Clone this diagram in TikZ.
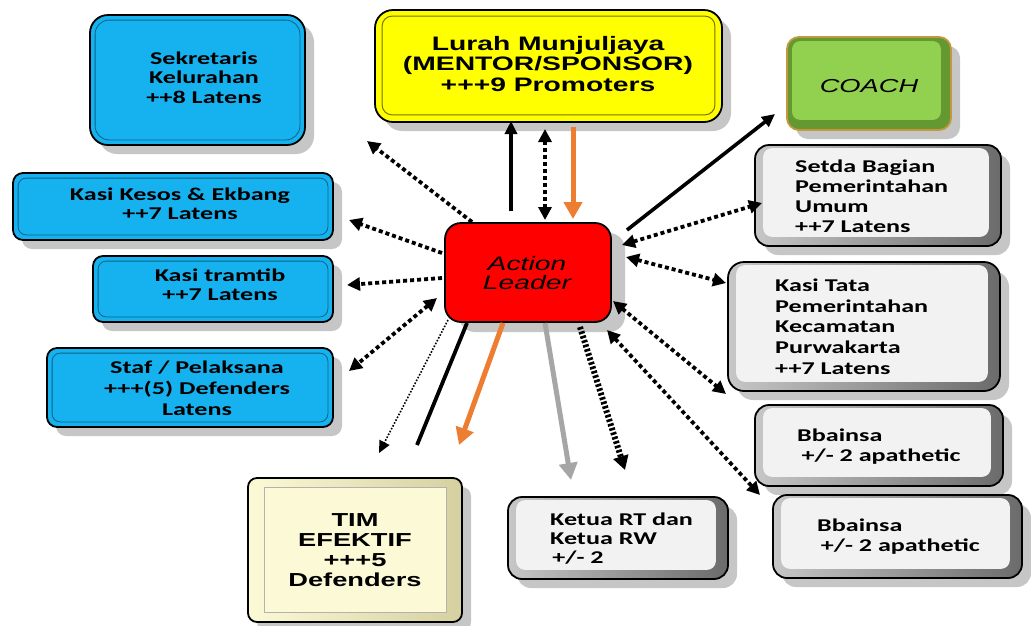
\documentclass[tikz,border=0pt]{standalone}
\usepackage{fontspec}
\usepackage{graphicx}
\usetikzlibrary{arrows.meta,shadows,calc}
\newfontfamily\calfont{Carlito}
\newfontfamily\arifont{Liberation Sans}
\definecolor{bblue}{RGB}{22,178,240}
\definecolor{byellow}{RGB}{255,255,0}
\definecolor{bgreen}{RGB}{146,208,80}
\definecolor{dgreen}{RGB}{100,152,48}
\definecolor{gold}{RGB}{196,152,60}
\definecolor{cream}{RGB}{252,250,214}
\definecolor{tanc}{RGB}{214,208,160}
\definecolor{panel}{RGB}{242,242,242}
\definecolor{shade}{RGB}{198,198,198}
\definecolor{aorange}{RGB}{237,125,49}
\definecolor{agray}{RGB}{166,166,166}
\newcommand{\hs}[2]{\scalebox{1.45}[1]{\begin{tabular}[t]{@{}#1@{}}#2\end{tabular}}}
\newcommand{\innerpanel}[6]{\draw[#6] ($(#1.north west)+(#2,#3)$) rectangle ($(#1.south east)+(-#4,-#5)$);}
\begin{document}
\begin{tikzpicture}[x=1pt,y=-1pt,
  box/.style={draw=black, line width=1.8pt, inner sep=0pt,
    drop shadow={shadow xshift=9pt, shadow yshift=-9pt, fill=shade, opacity=1}},
  bluebox/.style={box, fill=bblue},
  blueline/.style={draw=bblue!55!black, line width=0.8pt, rounded corners=8pt},
  graybox/.style={box, left color=black!22, right color=black!58},
  graypanel/.style={fill=panel, draw=none, rounded corners=9pt},
  yellowbox/.style={box, fill=byellow},
  yellowline/.style={draw=byellow!45!black, line width=1pt, rounded corners=10pt},
  coachbox/.style={box, draw=gold, fill=dgreen},
  coachpanel/.style={fill=bgreen, draw=none, rounded corners=8pt},
  timbox/.style={box, left color=cream, right color=tanc},
  timpanel/.style={fill=cream, draw=black!30, line width=0.6pt},
  albox/.style={draw=black, line width=1.8pt, inner sep=0pt, fill=red, rounded corners=16pt,
    drop shadow={shadow xshift=14pt, shadow yshift=-10pt, fill=shade, opacity=1}},
  txt/.style={inner sep=0pt},
  calt/.style={txt, font=\calfont\bfseries\fontsize{18}{#1}\selectfont},
  arit/.style={txt, font=\arifont\bfseries\fontsize{19.5}{#1}\selectfont},
  solidarr/.style={line width=3.6pt, -{Triangle[length=13pt,width=12pt]}},
  dotarr/.style={line width=3.8pt, dash pattern=on 4pt off 3pt, -{Triangle[length=13pt,width=13pt]}},
  dotdbl/.style={line width=3.8pt, dash pattern=on 4pt off 3pt, {Triangle[length=13pt,width=13pt]}-{Triangle[length=13pt,width=13pt]}},
  orangearr/.style={draw=aorange, line width=5pt, -{Triangle[length=17pt,width=18pt]}},
  grayarr/.style={draw=agray, line width=5pt, -{Triangle[length=17pt,width=18pt]}},
  thindot/.style={line width=1.6pt, dash pattern=on 1.6pt off 1.6pt, -{Triangle[length=12pt,width=11pt]}},
  heavydot/.style={line width=6pt, dash pattern=on 2.6pt off 2pt, -{Triangle[length=14pt,width=15pt]}},
  plainline/.style={line width=3.8pt}
]
\useasboundingbox (0,0) rectangle (1031,625);

% ---- boxes ----
\node[bluebox, rounded corners=18pt, minimum width=215pt, minimum height=130pt] (sek) at (197.5,80) {};
\innerpanel{sek}{6}{6}{6}{6}{blueline, rounded corners=14pt}
\node[bluebox, rounded corners=10pt, minimum width=320pt, minimum height=67pt] (kesos) at (173,206.5) {};
\innerpanel{kesos}{6}{6}{6}{6}{blueline}
\node[bluebox, rounded corners=10pt, minimum width=240pt, minimum height=66pt] (tramtib) at (213,289) {};
\innerpanel{tramtib}{6}{6}{6}{6}{blueline}
\node[bluebox, rounded corners=10pt, minimum width=286pt, minimum height=79pt] (staf) at (190,387.5) {};
\innerpanel{staf}{6}{6}{6}{6}{blueline}

\node[yellowbox, rounded corners=18pt, minimum width=347pt, minimum height=112pt] (lurah) at (548.5,66) {};
\innerpanel{lurah}{8}{7}{8}{8}{yellowline}

\node[coachbox, rounded corners=12pt, minimum width=164pt, minimum height=93pt] (coach) at (869,83.5) {};
\innerpanel{coach}{6}{5}{11}{11}{coachpanel}

\node[graybox, rounded corners=14pt, minimum width=246pt, minimum height=101pt] (setda) at (878,195.5) {};
\innerpanel{setda}{9}{4}{13}{10}{graypanel}
\node[graybox, rounded corners=16pt, minimum width=272pt, minimum height=129pt] (tata) at (864,326.5) {};
\innerpanel{tata}{9}{4}{13}{10}{graypanel}
\node[graybox, rounded corners=14pt, minimum width=248pt, minimum height=81pt] (bba) at (879,445.5) {};
\innerpanel{bba}{9}{4}{13}{10}{graypanel}
\node[graybox, rounded corners=14pt, minimum width=249pt, minimum height=83pt] (bbb) at (897.5,536.5) {};
\innerpanel{bbb}{9}{4}{13}{10}{graypanel}
\node[graybox, rounded corners=14pt, minimum width=220pt, minimum height=82pt] (ketua) at (618,538) {};
\innerpanel{ketua}{9}{4}{13}{10}{graypanel}

\node[timbox, rounded corners=9pt, minimum width=214pt, minimum height=144pt] (tim) at (355,550) {};
\innerpanel{tim}{17}{10}{17}{11}{timpanel}

\node[albox, minimum width=166pt, minimum height=99pt] (al) at (528,272.5) {};

% ---- texts ----
\node[calt=19.5, anchor=base] (tsek) at (204,64) {\hs{c}{Sekretaris\\Kelurahan\\++8 Latens}};
\node[calt=19.3, anchor=base] (tkesos) at (180,200) {\hs{c}{Kasi Kesos \& Ekbang\\++7 Latens}};
\node[calt=19.5, anchor=base] (ttramtib) at (220,281) {\hs{c}{Kasi tramtib\\++7 Latens}};
\node[calt=21, anchor=base] (tstaf) at (197,373) {\hs{c}{Staf / Pelaksana\\+++(5) Defenders\\Latens}};
\node[arit=20.5, anchor=base] (tlurah) at (548,50) {\hs{c}{Lurah Munjuljaya\\(MENTOR/SPONSOR)\\+++9 Promoters}};
\node[txt, font=\arifont\itshape\fontsize{18.8}{20}\selectfont, anchor=base] (tcoach) at (869,92) {\hs{c}{COACH}};
\node[calt=20, anchor=base west] (tsetda) at (795,172) {\hs{l}{Setda Bagian\\Pemerintahan\\Umum\\++7 Latens}};
\node[calt=20.7, anchor=base west] (ttata) at (775,291.5) {\hs{l}{Kasi Tata\\Pemerintahan\\Kecamatan\\Purwakarta\\++7 Latens}};
\node[calt=20, anchor=base west] (tbba) at (797,441.5) {\hs{l}{Bbainsa\\\hspace*{3pt}+/- 2 apathetic}};
\node[calt=20, anchor=base west] (tbbb) at (817,531.5) {\hs{l}{Bbainsa\\\hspace*{2.5pt}+/- 2 apathetic}};
\node[calt=19, anchor=base west] (tketua) at (550,525) {\hs{l}{Ketua RT dan\\Ketua RW\\\hspace*{1.5pt}+/- 2}};
\node[txt, font=\arifont\bfseries\fontsize{18.8}{19.8}\selectfont, anchor=base] (ttim) at (355,526.7) {\hs{c}{TIM\\EFEKTIF\\+++5\\Defenders}};
\node[txt, font=\arifont\itshape\fontsize{19.5}{19.5}\selectfont, anchor=base] (tal) at (527,270) {\hs{c}{Action\\Leader}};

% ---- connector end points ----
\coordinate (p1a) at (511,211);  \coordinate (p1b) at (511,121);
\coordinate (p2a) at (545,220);  \coordinate (p2b) at (545,129);
\coordinate (p3a) at (573,127);  \coordinate (p3b) at (573,219);
\coordinate (p4a) at (472,222);  \coordinate (p4b) at (367,141);
\coordinate (p5a) at (442,253);  \coordinate (p5b) at (349,220);
\coordinate (p6a) at (442,278);  \coordinate (p6b) at (347,285);
\coordinate (p7a) at (437,298);  \coordinate (p7b) at (349,371);
\coordinate (p8a) at (448,320);  \coordinate (p8b) at (379,453);
\coordinate (p9a) at (467,323);  \coordinate (p9b) at (417,445);
\coordinate (p10a) at (503,323); \coordinate (p10b) at (459,445);
\coordinate (p11a) at (545,323); \coordinate (p11b) at (571,480);
\coordinate (p12a) at (580,327); \coordinate (p12b) at (625,470);
\coordinate (p13a) at (607,330); \coordinate (p13b) at (760,495);
\coordinate (p14a) at (613,301); \coordinate (p14b) at (726,394);
\coordinate (p15a) at (626,257); \coordinate (p15b) at (726,283);
\coordinate (p16a) at (622,245); \coordinate (p16b) at (762,203);
\coordinate (p17a) at (627,230); \coordinate (p17b) at (775,114);

% ---- connectors ----
\draw[solidarr] (p1a) -- (p1b);
\draw[dotdbl] (p2a) -- (p2b);
\draw[orangearr] (p3a) -- (p3b);
\draw[dotarr] (p4a) -- (p4b);
\draw[dotarr] (p5a) -- (p5b);
\draw[dotarr] (p6a) -- (p6b);
\draw[dotdbl] (p7a) -- (p7b);
\draw[thindot] (p8a) -- (p8b);
\draw[plainline] (p9a) -- (p9b);
\draw[orangearr] (p10a) -- (p10b);
\draw[grayarr] (p11a) -- (p11b);
\draw[heavydot] (p12a) -- (p12b);
\draw[dotdbl] (p13a) -- (p13b);
\draw[dotdbl] (p14a) -- (p14b);
\draw[dotdbl] (p15a) -- (p15b);
\draw[dotdbl] (p16a) -- (p16b);
\draw[solidarr] (p17a) -- (p17b);
\end{tikzpicture}
\end{document}
